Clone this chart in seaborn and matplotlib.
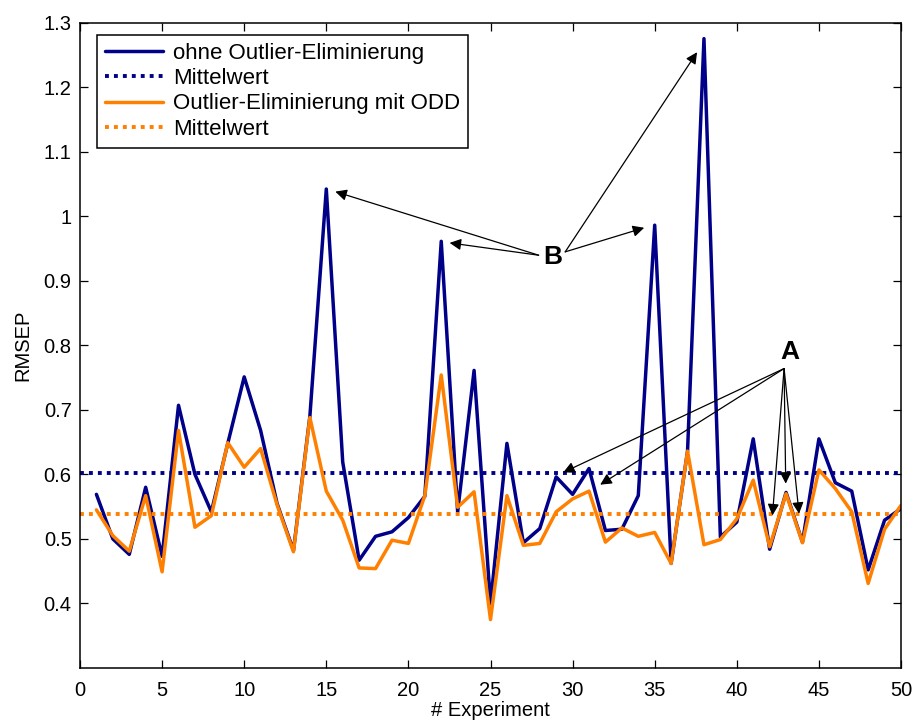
import numpy as np
import pandas as pd
import matplotlib
matplotlib.use("Agg")
import matplotlib.pyplot as plt
import seaborn as sns
from matplotlib.ticker import FuncFormatter

experiments = list(range(1, 51))
rmsep_ohne = [0.569, 0.500, 0.476, 0.580, 0.473, 0.707, 0.600, 0.542, 0.648, 0.751,
              0.668, 0.555, 0.482, 0.690, 1.042, 0.619, 0.467, 0.504, 0.511, 0.533,
              0.566, 0.961, 0.542, 0.761, 0.400, 0.648, 0.494, 0.516, 0.596, 0.569,
              0.609, 0.513, 0.515, 0.567, 0.986, 0.462, 0.636, 1.275, 0.503, 0.526,
              0.655, 0.484, 0.572, 0.495, 0.655, 0.587, 0.574, 0.452, 0.529, 0.547]
rmsep_odd = [0.545, 0.505, 0.481, 0.567, 0.449, 0.668, 0.518, 0.536, 0.649, 0.611,
             0.640, 0.553, 0.480, 0.688, 0.574, 0.529, 0.455, 0.454, 0.498, 0.493,
             0.567, 0.754, 0.549, 0.573, 0.375, 0.567, 0.490, 0.493, 0.542, 0.562,
             0.574, 0.495, 0.517, 0.504, 0.510, 0.462, 0.636, 0.491, 0.499, 0.531,
             0.591, 0.488, 0.570, 0.494, 0.607, 0.578, 0.542, 0.431, 0.515, 0.552]
mean_ohne = 0.602
mean_odd = 0.539
labels = ["ohne Outlier-Eliminierung", "Mittelwert", "Outlier-Eliminierung mit ODD", "Mittelwert"]
x_ticks = list(range(0, 51, 5))
y_ticks = [0.4, 0.5, 0.6, 0.7, 0.8, 0.9, 1.0, 1.1, 1.2, 1.3]

sns.set_theme(style="ticks")
plt.rcParams['font.family'] = ['Liberation Sans', 'DejaVu Sans']
plt.rcParams['text.color'] = 'black'
plt.rcParams['axes.labelcolor'] = 'black'

blue = "#000088"
orange = "#FF8000"

fig = plt.figure(figsize=(9.14, 7.24), dpi=100)
ax = fig.add_axes([80/914, 1 - 668/724, 821/914, 645.5/724])

df = pd.DataFrame({"x": experiments, "ohne": rmsep_ohne, "odd": rmsep_odd})
sns.lineplot(data=df, x="x", y="ohne", ax=ax, color=blue, lw=2.5, label=labels[0])
ax.axhline(mean_ohne, color=blue, lw=2.8, ls=(0, (1, 1.3)), label=labels[1])
sns.lineplot(data=df, x="x", y="odd", ax=ax, color=orange, lw=2.5, label=labels[2])
ax.axhline(mean_odd, color=orange, lw=2.8, ls=(0, (1, 1.3)), label=labels[3])

ax.set_xlim(0, 50)
ax.set_ylim(0.3, 1.3)
ax.set_xticks(x_ticks)
ax.set_yticks(y_ticks)
ax.yaxis.set_major_formatter(FuncFormatter(lambda v, p: ("%g" % round(v, 2))))
ax.tick_params(direction="in", top=True, right=True, length=6, width=0.9,
               labelsize=14.5, colors="black")
ax.tick_params(axis="x", pad=9)
ax.tick_params(axis="y", pad=6)
for s in ax.spines.values():
    s.set_linewidth(1.1)
    s.set_color("black")
ax.set_xlabel("# Experiment", fontsize=14.5, labelpad=1)
ax.set_ylabel("RMSEP", fontsize=14.5, labelpad=8)

leg = ax.legend(loc="upper left", bbox_to_anchor=(0.021, 0.981), fontsize=16,
                frameon=True, fancybox=False, edgecolor="black", framealpha=1,
                handlelength=2.6, handletextpad=0.45, borderpad=0.35, labelspacing=0.2,
                borderaxespad=0)
leg.get_frame().set_linewidth(1.1)

ap = dict(arrowstyle="-|>", lw=0.9, color="black", mutation_scale=17, shrinkA=0, shrinkB=0)
ax.text(28.8, 0.937, "B", fontsize=19, fontweight="bold", ha="center", va="center")
for tail, head in [((27.93, 0.9395), (15.55, 1.038)),
                   ((27.93, 0.9395), (22.51, 0.9586)),
                   ((29.55, 0.9447), (34.36, 0.982)),
                   ((29.55, 0.9447), (37.58, 1.254))]:
    ax.annotate("", xy=head, xytext=tail, arrowprops=ap)

ax.text(43.2, 0.789, "A", fontsize=19, fontweight="bold", ha="center", va="center")
for head in [(29.43, 0.603), (31.68, 0.584), (42.17, 0.5364), (42.98, 0.5856), (43.79, 0.539)]:
    ax.annotate("", xy=head, xytext=(42.88, 0.7639), arrowprops=ap)

fig.savefig("out.png", dpi=100)
